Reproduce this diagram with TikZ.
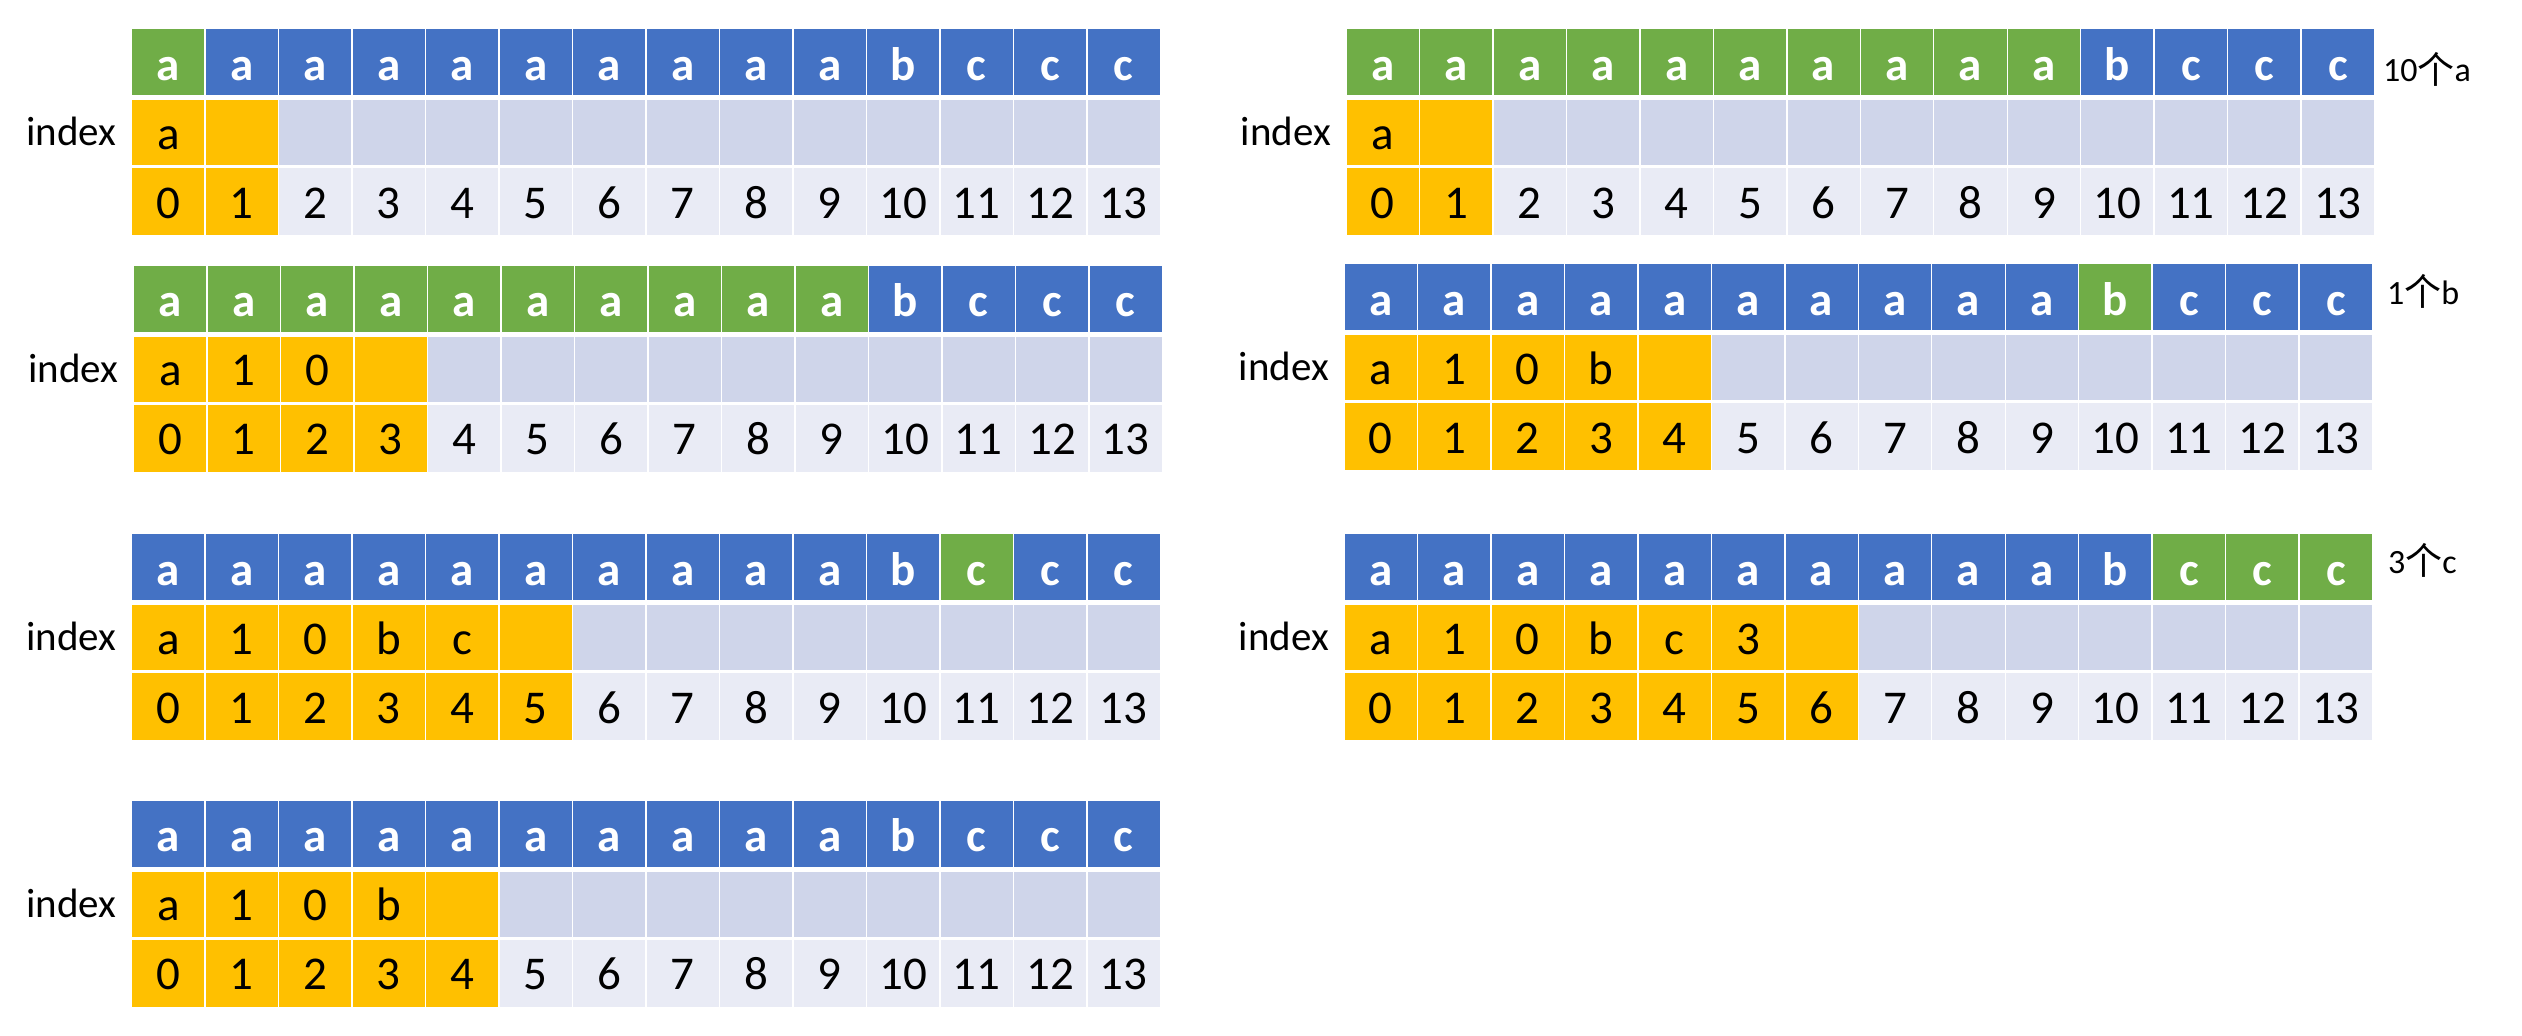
\documentclass[tikz,border=0pt]{standalone}
\usepackage{fontspec}
\setmainfont{Carlito}
\newfontfamily\cjk{Noto Sans CJK SC}
\definecolor{greenC}{HTML}{70AD47}
\definecolor{blueC}{HTML}{4472C4}
\definecolor{orangeC}{HTML}{FFC000}
\definecolor{rowB}{HTML}{CFD5EA}
\definecolor{rowC}{HTML}{E9EBF5}
\tikzset{
  cellbase/.style={rectangle, draw=white, line width=1.4pt, inner sep=0pt,
    minimum width=73.47pt, anchor=center},
  hcell/.style={cellbase, minimum height=67.4pt, text=white,
    font=\fontsize{47}{50}\selectfont\bfseries, text height=36pt, text depth=0pt},
  icell/.style={cellbase, minimum height=66.7pt,
    font=\fontsize{47}{50}\selectfont, text height=33pt, text depth=0pt},
  ncell/.style={cellbase, minimum height=68.4pt,
    font=\fontsize{47}{50}\selectfont, text height=33pt, text depth=0pt},
  idxlabel/.style={anchor=base east, inner sep=0pt, font=\fontsize{41}{44}\selectfont},
  cntlabel/.style={anchor=base west, inner sep=0pt, font=\fontsize{34}{36}\selectfont},
}
% #1 name, #2 x0, #3 y0, #4 green start, #5 green end, #6 orange count, #7 row-2 list
\newcommand{\strtable}[7]{%
  \foreach \rtwo [count=\jj from 0] in {#7}{%
    \ifnum\jj<#4\relax \def\hdcol{blueC}\else\ifnum\jj>#5\relax \def\hdcol{blueC}\else\def\hdcol{greenC}\fi\fi
    \ifnum\jj<10\relax \def\hdtxt{a}\else\ifnum\jj=10\relax \def\hdtxt{b}\else\def\hdtxt{c}\fi\fi
    \ifnum\jj<#6\relax \def\colb{orangeC}\def\colc{orangeC}\else\def\colb{rowB}\def\colc{rowC}\fi
    \node[hcell, fill=\hdcol] (#1-h\jj) at ({#2+(\jj+0.5)*73.47},{#3+33.7}) {\hdtxt};
    \node[icell, fill=\colb] (#1-i\jj) at ({#2+(\jj+0.5)*73.47},{#3+104.35}) {\rtwo};
    \node[ncell, fill=\colc] (#1-n\jj) at ({#2+(\jj+0.5)*73.47},{#3+173.2}) {\jj};
  }
  \node[idxlabel] (#1-idx) at ({#2-15},{#3+117.5}) {index};
}
\newcommand{\cjkge}{{\cjk\fontsize{37}{38}\selectfont\raisebox{-1.5pt}{个}}}
\begin{document}
\begin{tikzpicture}[x=1pt, y=-1pt]
  \useasboundingbox (0,0) rectangle (2522,1036);
  \strtable{L1}{131.7}{28.3}{0}{0}{2}{a,,,,,,,,,,,,,}
  \strtable{L2}{133.7}{265}{0}{9}{4}{a,1,0,,,,,,,,,,,}
  \strtable{L3}{131.7}{533.3}{11}{11}{6}{a,1,0,b,c,,,,,,,,,}
  \strtable{L4}{131.7}{800}{99}{-1}{5}{a,1,0,b,,,,,,,,,,}
  \strtable{R1}{1346}{28.3}{0}{9}{2}{a,,,,,,,,,,,,,}
  \strtable{R2}{1344}{263.3}{10}{10}{5}{a,1,0,b,,,,,,,,,,}
  \strtable{R3}{1344}{533.3}{11}{13}{7}{a,1,0,b,c,3,,,,,,,,}
  \node[cntlabel] (lab-a) at (2383,81.7) {10\cjkge a};
  \node[cntlabel] (lab-b) at (2387,304) {1\cjkge b};
  \node[cntlabel] (lab-c) at (2388,573) {3\cjkge c};
\end{tikzpicture}
\end{document}
